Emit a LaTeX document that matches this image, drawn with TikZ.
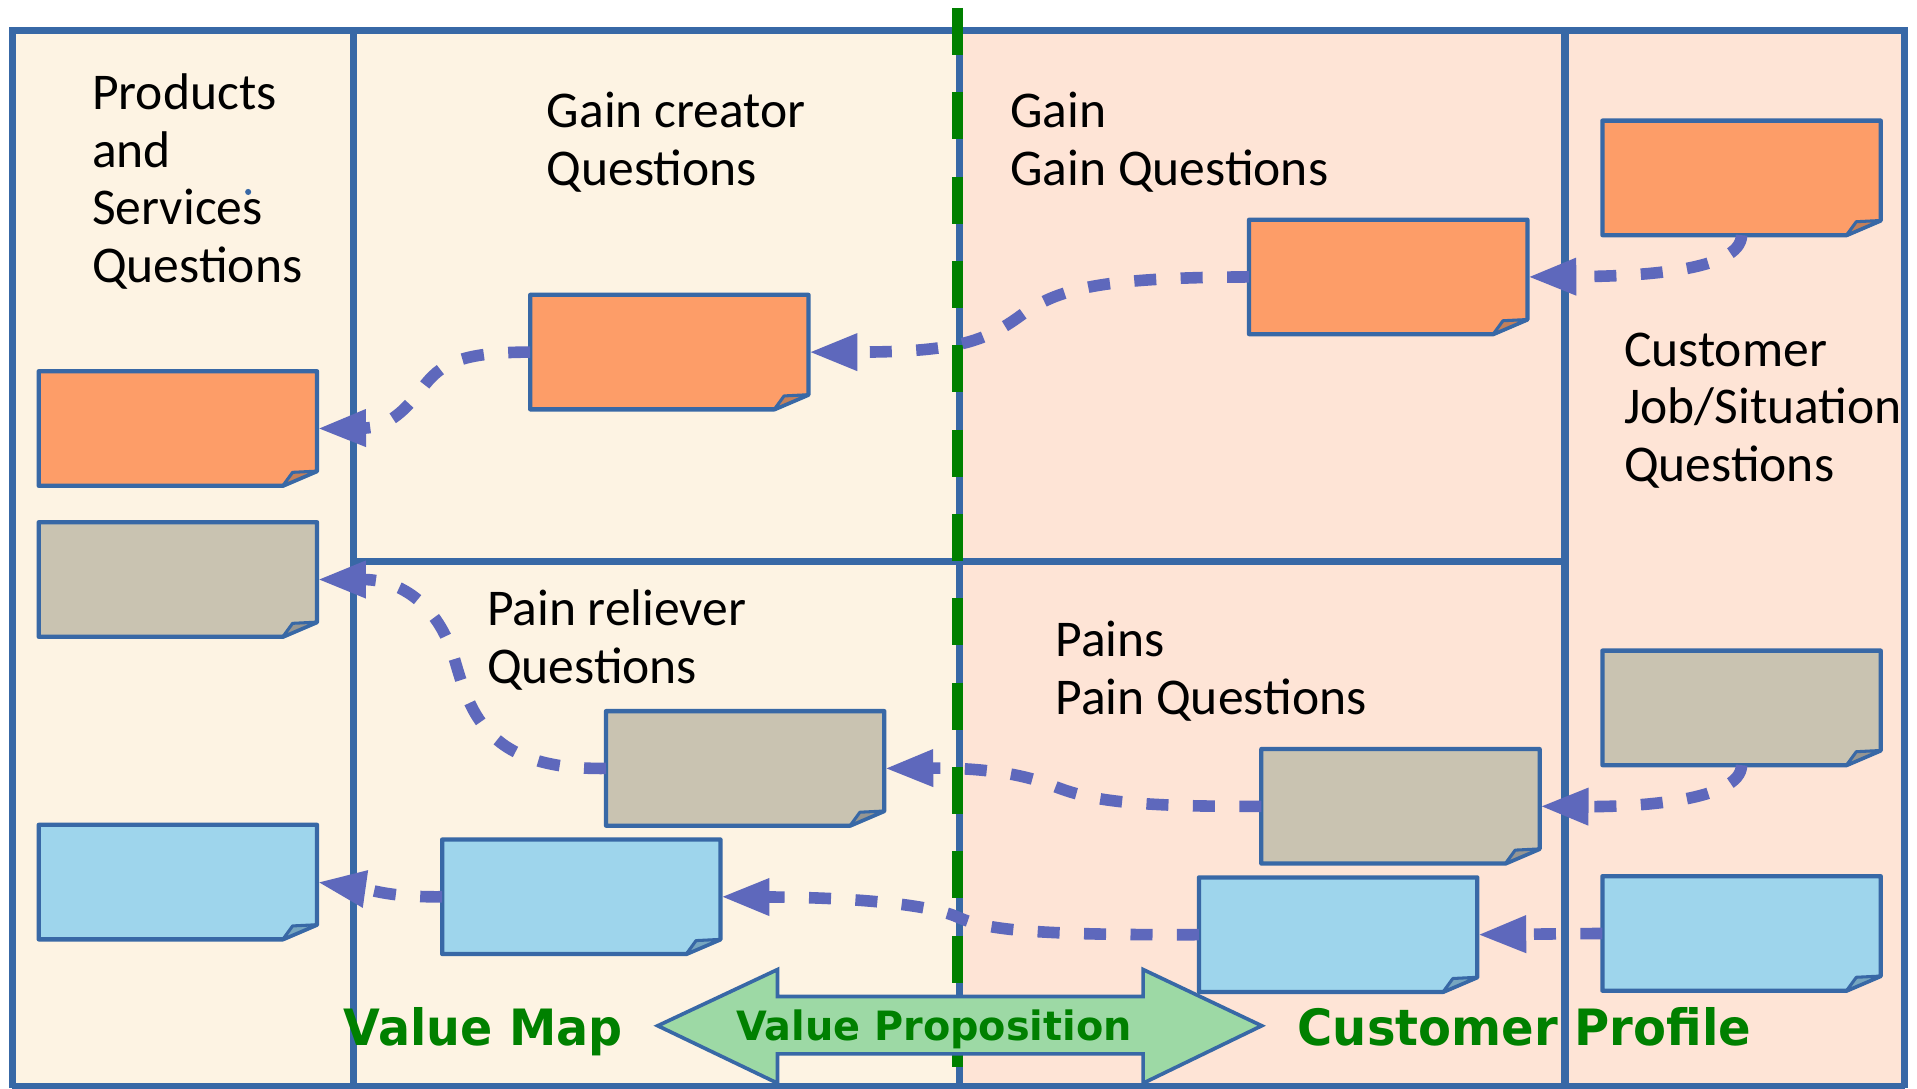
\documentclass[tikz,border=0pt]{standalone}
\usepackage{fontspec}
\setmainfont{Carlito}
\newfontfamily\greenfont{DejaVu Sans}
\usetikzlibrary{arrows.meta,calc}
\definecolor{lineblue}{RGB}{56,104,166}
\definecolor{arrowblue}{RGB}{94,104,188}
\definecolor{cream}{RGB}{253,243,227}
\definecolor{peach}{RGB}{254,228,214}
\definecolor{orangeN}{RGB}{253,157,104}
\definecolor{grayN}{RGB}{201,195,177}
\definecolor{blueN}{RGB}{158,213,236}
\definecolor{orangeF}{RGB}{196,128,90}
\definecolor{grayF}{RGB}{150,150,146}
\definecolor{blueF}{RGB}{118,166,192}
\definecolor{vgreen}{RGB}{0,128,0}
\definecolor{lgreen}{RGB}{157,217,165}
\newcommand\stickynote[3]{%
  \filldraw[fill=#2, draw=lineblue, line width=0.07cm, line join=round]
    (#1.north west) -- (#1.north east) -- ([yshift=0.24cm]#1.south east)
    -- ([xshift=-0.56cm]#1.south east) -- (#1.south west) -- cycle;
  \filldraw[fill=#3, draw=lineblue, line width=0.05cm, line join=round]
    ([xshift=-0.56cm]#1.south east) -- ([xshift=-0.40cm,yshift=0.22cm]#1.south east)
    -- ([yshift=0.24cm]#1.south east) -- cycle;}
\tikzset{
  note/.style={minimum width=4.54cm, minimum height=1.86cm, inner sep=0pt, draw=none},
  flow/.style={draw=arrowblue, line width=0.19cm, dash pattern=on 0.36cm off 0.4cm,
    -{Triangle[length=0.8cm,width=0.56cm]}},
  frameline/.style={draw=lineblue, line width=0.12cm},
  lbl/.style={font=\fontsize{24}{26.76}\selectfont, align=left, anchor=north west, inner sep=0pt, text=black},
  gtext/.style={text=vgreen, inner sep=0pt}
}
\begin{document}
\begin{tikzpicture}[x=0.02cm,y=-0.02cm]
\useasboundingbox (0,0) rectangle (1568,890);
\fill[white] (0,0) rectangle (1568,890);
% backgrounds
\fill[cream] (10,25) rectangle (785,890);
\fill[peach] (785,25) rectangle (1558,890);
% frame lines
\draw[frameline] (10,890) -- (10,25) -- (1558,25) -- (1558,890);
\draw[frameline] (10,889) -- (1558,889);
\draw[frameline] (289,25) -- (289,890);
\draw[frameline] (785,25) -- (785,890);
\draw[frameline] (1280,25) -- (1280,890);
\draw[frameline] (289,459) -- (1280,459);
% green dashed divider
\draw[vgreen, line width=0.18cm, dash pattern=on 0.77cm off 0.61cm] (783,6.5) -- (783,890);
% sticky notes
\node[note] (psO) at (145.5,350.5) {};
\node[note] (psG) at (145.5,474) {};
\node[note] (psB) at (145.5,721.5) {};
\node[note] (gcO) at (547.5,288) {};
\node[note] (prG) at (609.5,628.5) {};
\node[note] (prB) at (475.5,733.5) {};
\node[note] (gO) at (1135.5,226.5) {};
\node[note] (pG) at (1145.5,659.5) {};
\node[note] (pB) at (1094.5,764.5) {};
\node[note] (cjO) at (1424.5,145.5) {};
\node[note] (cjG) at (1424.5,579) {};
\node[note] (cjB) at (1424.5,763.5) {};
\stickynote{psO}{orangeN}{orangeF}
\stickynote{psG}{grayN}{grayF}
\stickynote{psB}{blueN}{blueF}
\stickynote{gcO}{orangeN}{orangeF}
\stickynote{prG}{grayN}{grayF}
\stickynote{prB}{blueN}{blueF}
\stickynote{gO}{orangeN}{orangeF}
\stickynote{pG}{grayN}{grayF}
\stickynote{pB}{blueN}{blueF}
\stickynote{cjO}{orangeN}{orangeF}
\stickynote{cjG}{grayN}{grayF}
\stickynote{cjB}{blueN}{blueF}
% connectors
\draw[flow] (gO.west) .. controls (900,227) and (865,236) .. (835,258) .. controls (805,280) and (780,288) .. (gcO.east);
\draw[flow] (gcO.west) .. controls (375,288) and (360,298) .. (345,318) .. controls (330,338) and (315,350) .. (psO.east);
\draw[flow] (cjO.south) .. controls (1424,222) and (1340,226) .. (gO.east);
\draw[flow] (prG.west) .. controls (400,630) and (385,585) .. (372,540) .. controls (358,492) and (325,474) .. (psG.east);
\draw[flow] (pG.west) .. controls (920,660) and (890,654) .. (862,643) .. controls (834,632) and (800,628) .. (prG.east);
\draw[flow] (cjG.south) .. controls (1424,655) and (1340,660) .. (pG.east);
\draw[flow] (prB.west) .. controls (320,734) and (305,728) .. (psB.east);
\draw[flow] (pB.west) .. controls (840,765) and (805,760) .. (783,750) .. controls (761,740) and (700,734) .. (prB.east);
\draw[flow] (cjB.west) -- (pB.east);
% value proposition double arrow
\filldraw[fill=lgreen, draw=lineblue, line width=0.06cm, line join=miter]
  (538,839) -- (636,793) -- (636,815) -- (935,815) -- (935,793) -- (1032,839)
  -- (935,886) -- (935,862) -- (636,862) -- (636,886) -- cycle;
% texts
\node[lbl] (tPS) at (75,60) {Products\\and\\Services\\Questions};
\fill[lineblue] (203,157) circle (0.05cm);
\node[lbl] (tGC) at (447,75) {Gain creator\\Questions};
\node[lbl] (tG) at (826,75) {Gain\\Gain Questions};
\node[lbl] (tCJ) at (1328,272) {Customer\\Job/Situation\\Questions};
\node[lbl] (tPR) at (398,482) {Pain reliever\\Questions};
\node[lbl] (tP) at (863,508) {Pains\\Pain Questions};
\node[gtext, anchor=base west] (tVM) at (281,855) {\scalebox{0.95}[1]{\greenfont\bfseries\fontsize{23.3}{28}\selectfont Value Map}};
\node[gtext, anchor=base] (tVP) at (764,851) {\scalebox{0.985}[1]{\greenfont\bfseries\fontsize{18.8}{22}\selectfont Value Proposition}};
\node[gtext, anchor=base west] (tCP) at (1061,855) {\scalebox{0.96}[1]{\greenfont\bfseries\fontsize{23.3}{28}\selectfont Customer Profile}};
\end{tikzpicture}
\end{document}
